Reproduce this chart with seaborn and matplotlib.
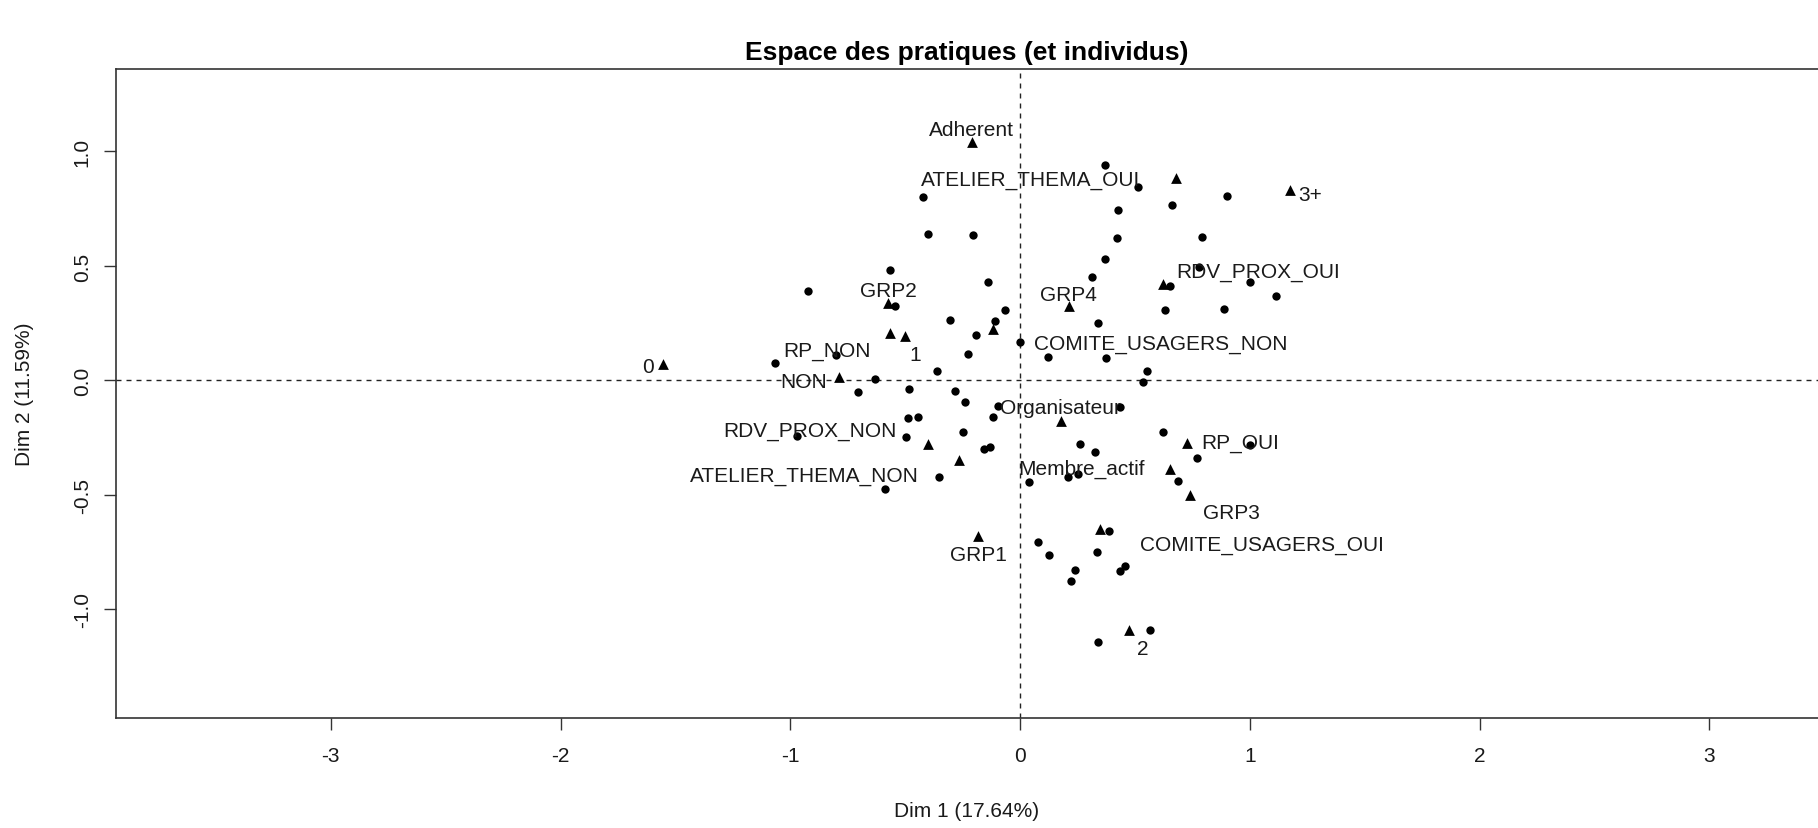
import matplotlib
matplotlib.use("Agg")
import matplotlib.pyplot as plt
import seaborn as sns
import pandas as pd

# ---------------- data ----------------
ind_dim1 = [0.371, 0.513, 0.899, -0.422, 0.661, 0.427, -0.402, -0.207, 0.421, 0.791,
            0.369, -0.565, 0.311, 0.777, -0.138, 0.999, 1.115, 0.654, 0.629, 0.887,
            -0.065, -0.303, -0.107, 0.338, -0.191, -0.922, -0.545, 0.000, 0.121, 0.375,
            -0.225, -0.360, 0.553, 0.535, -0.482, -0.284, -0.238, -0.094, 0.436, -0.489,
            -0.446, -0.119, -0.496, -0.249, 0.622, 0.262, 0.328, -0.155, -0.129, 0.999,
            0.770, -0.354, 0.208, 0.251, 0.037, 0.687, -0.587, 0.389, 0.077, 0.127,
            0.333, 0.240, 0.220, 0.433, 0.458, 0.567, 0.338, -1.065, -0.801, -0.630,
            -0.707, -0.971]
ind_dim2 = [0.942, 0.846, 0.807, 0.803, 0.765, 0.746, 0.638, 0.634, 0.621, 0.628,
            0.532, 0.483, 0.453, 0.494, 0.428, 0.431, 0.367, 0.414, 0.306, 0.312,
            0.307, 0.265, 0.258, 0.251, 0.199, 0.390, 0.324, 0.170, 0.101, 0.097,
            0.116, 0.043, 0.043, -0.005, -0.037, -0.044, -0.095, -0.113, -0.117, -0.164,
            -0.161, -0.158, -0.248, -0.223, -0.223, -0.277, -0.314, -0.299, -0.289, -0.282,
            -0.340, -0.420, -0.423, -0.408, -0.445, -0.440, -0.474, -0.659, -0.707, -0.761,
            -0.748, -0.828, -0.874, -0.833, -0.811, -1.088, -1.143, 0.075, 0.111, 0.007,
            -0.052, -0.241]

cat_labels = ["Adherent", "ATELIER_THEMA_OUI", "3+", "RDV_PROX_OUI", "GRP4", "GRP2",
              "RP_NON", "1", "COMITE_USAGERS_NON", "0", "NON", "Organisateur",
              "RDV_PROX_NON", "ATELIER_THEMA_NON", "RP_OUI", "Membre_actif", "GRP3",
              "GRP1", "COMITE_USAGERS_OUI", "2"]
cat_dim1 = [-0.210, 0.680, 1.177, 0.622, 0.212, -0.575, -0.564, -0.499, -0.119, -1.556,
            -0.789, 0.176, -0.402, -0.267, 0.726, 0.651, 0.738, -0.183, 0.349, 0.476]
cat_dim2 = [1.040, 0.883, 0.830, 0.421, 0.324, 0.340, 0.207, 0.193, 0.225, 0.072,
            0.014, -0.175, -0.277, -0.346, -0.273, -0.386, -0.500, -0.680, -0.649, -1.088]

x_ticks = [-3, -2, -1, 0, 1, 2, 3]
y_ticks = [-1.0, -0.5, 0.0, 0.5, 1.0]
x_title = "Dim 1 (17.64%)"
y_title = "Dim 2 (11.59%)"
main_title = "Espace des pratiques (et individus)"

# ---------------- layout (label offsets in pixels, repel-style placement) ----------------
label_offsets = {
    "Adherent": (0, 13), "ATELIER_THEMA_OUI": (-146, -1), "3+": (20, -4),
    "RDV_PROX_OUI": (95, 13), "GRP4": (0, 12), "GRP2": (0, 12), "RP_NON": (-63, -17),
    "1": (10, -18), "COMITE_USAGERS_NON": (168, -15), "0": (-15, -3), "NON": (-35, -4),
    "Organisateur": (0, 13), "RDV_PROX_NON": (-118, 13), "ATELIER_THEMA_NON": (-154, -16),
    "RP_OUI": (53, 0), "Membre_actif": (-88, 0), "GRP3": (42, -18), "GRP1": (0, -18),
    "COMITE_USAGERS_OUI": (162, -15), "2": (13, -19),
}

ind_df = pd.DataFrame({"Dim1": ind_dim1, "Dim2": ind_dim2})
cat_df = pd.DataFrame({"label": cat_labels, "Dim1": cat_dim1, "Dim2": cat_dim2})

sns.set_style("ticks")
plt.rcParams['font.family'] = ['Liberation Sans', 'DejaVu Sans']
plt.rcParams['axes.unicode_minus'] = False

W, H = 1818, 829
fig = plt.figure(figsize=(W / 100, H / 100), dpi=100)
left, right, top, bottom = 116, 1818, 69.6, 719
ax = fig.add_axes([left / W, 1 - bottom / H, (right - left) / W, (bottom - top) / H])

ax.axhline(0, color="#222222", lw=1.0, ls=(0, (3.6, 3.6)), zorder=1)
ax.axvline(0, color="#222222", lw=1.0, ls=(0, (3.6, 3.6)), zorder=1)

sns.scatterplot(data=ind_df, x="Dim1", y="Dim2", ax=ax, color="black", marker="o",
                s=36, linewidth=0, zorder=3)
sns.scatterplot(data=cat_df, x="Dim1", y="Dim2", ax=ax, color="black", marker="^",
                s=60, linewidth=0, zorder=4)

for lab, x, y in zip(cat_df["label"], cat_df["Dim1"], cat_df["Dim2"]):
    dx, dy = label_offsets[lab]
    ax.annotate(lab, (x, y), xytext=(dx, dy), textcoords="offset pixels",
                ha="center", va="center", fontsize=15, color="#1a1a1a", zorder=5)

ax.set_xlim(-3.935, 3.473)
ax.set_ylim(-1.474, 1.362)
ax.set_xticks(x_ticks)
ax.set_xticklabels([str(t) for t in x_ticks])
ax.set_yticks(y_ticks)
ax.set_yticklabels([f"{t:.1f}" for t in y_ticks], va="center")
ax.tick_params(axis="both", direction="out", length=8.5, width=1.0, color="#333333",
               labelsize=15, labelcolor="#1a1a1a")
ax.tick_params(axis="x", pad=12)
ax.tick_params(axis="y", pad=9, labelrotation=90)
ax.set_xlabel("")
ax.set_ylabel("")
for side in ["left", "top", "bottom"]:
    ax.spines[side].set_color("#333333")
    ax.spines[side].set_linewidth(1.2)
ax.spines["right"].set_visible(False)

cx = (left + right) / 2 / W
fig.text(cx, 1 - 812 / H, x_title, ha="center", va="center", fontsize=15, color="#1a1a1a")
fig.text(24 / W, 1 - (top + bottom) / 2 / H, y_title, ha="center", va="center",
         rotation=90, fontsize=15, color="#1a1a1a")
fig.text(cx, 1 - 53 / H, main_title, ha="center", va="center", fontsize=19,
         fontweight="bold", color="black")

fig.savefig("out.png", dpi=100)
